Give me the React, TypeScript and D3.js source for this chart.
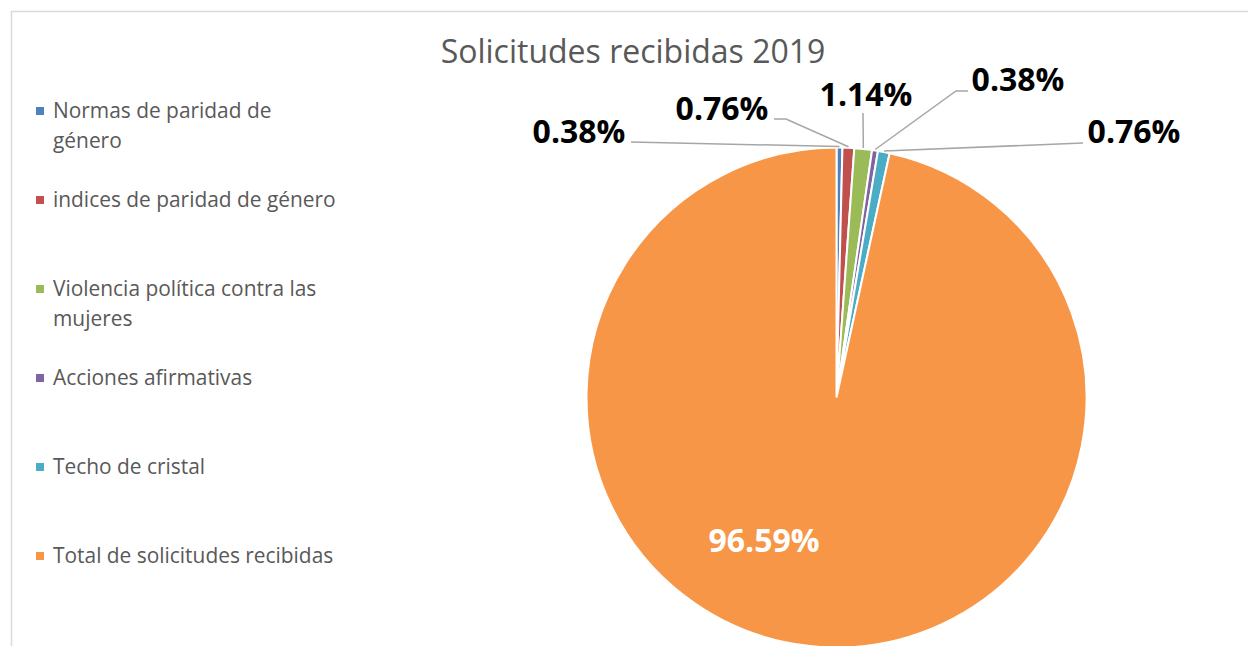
import React from "react";
import * as d3 from "d3";

const categories = [
  "Normas de paridad de género",
  "indices de paridad de género",
  "Violencia política contra las mujeres",
  "Acciones afirmativas",
  "Techo de cristal",
  "Total de solicitudes recibidas",
];
const values = [1, 2, 3, 1, 2, 255];
const colors = ["#4F81BD", "#C0504D", "#9BBB59", "#8064A2", "#4BACC6", "#F79646"];
const legendLines = [
  ["Normas de paridad de", "género"],
  ["indices de paridad de género"],
  ["Violencia política contra las", "mujeres"],
  ["Acciones afirmativas"],
  ["Techo de cristal"],
  ["Total de solicitudes recibidas"],
];
const title = "Solicitudes recibidas 2019";

// label layout (offsets from pie centre): label centre x, baseline y, leader start, optional elbow
const labelLayout = [
  { x: -257.5, y: -254.5, start: [-205.5, -255.5], elbow: null },
  { x: -114.5, y: -277.5, start: [-62.5, -278.5], elbow: [-50.5, -278.5] },
  { x: 29.5, y: -291.5, start: [26.5, -284.5], elbow: null },
  { x: 181.5, y: -306.5, start: [131.5, -306.5], elbow: [119.5, -306.5] },
  { x: 297.5, y: -254.5, start: [246.5, -254.5], elbow: null },
  null,
];

export default function App() {
  const W = 1248;
  const H = 646;
  const cx = 836.5;
  const cy = 397.5;
  const r = 250;
  const total = d3.sum(values);
  const pie = d3.pie<number>().sort(null).value((d) => d)(values);
  const arc = d3.arc<d3.PieArcDatum<number>>().innerRadius(0).outerRadius(r);
  const fmt = (v: number) => ((v / total) * 100).toFixed(2) + "%";
  const legendY = d3.scalePoint<number>().domain(d3.range(categories.length)).range([118, 563]);

  return (
    <svg width={W} height={H} style={{ position: "absolute", left: 0, top: 0 }}>
      <rect x={0} y={0} width={W} height={H} fill="#fff" />
      <rect x={11.5} y={11.5} width={1400} height={900} fill="none" stroke="#d9d9d9" strokeWidth={1.5} />
      <text
        x={633}
        y={63}
        textAnchor="middle"
        fontFamily="'Open Sans'"
        fontSize={32}
        fill="#595959"
      >
        {title}
      </text>
      <g transform={`translate(${cx},${cy})`}>
        {pie.map((p, i) => (
          <path key={i} d={arc(p) || ""} fill={colors[i]} stroke="#fff" strokeWidth={2} />
        ))}
        {pie.map((p, i) => {
          const L = labelLayout[i];
          if (!L) return null;
          const mid = (p.startAngle + p.endAngle) / 2;
          const er = r + 1;
          const ex = er * Math.sin(mid);
          const ey = -er * Math.cos(mid);
          const pts = [L.start, ...(L.elbow ? [L.elbow] : []), [ex, ey]];
          return (
            <polyline
              key={"l" + i}
              points={pts.map((q) => q.join(",")).join(" ")}
              fill="none"
              stroke="#a6a6a6"
              strokeWidth={1.5}
            />
          );
        })}
        {pie.map((p, i) => {
          const L = labelLayout[i];
          if (!L) return null;
          return (
            <text
              key={"t" + i}
              x={L.x}
              y={L.y}
              textAnchor="middle"
              fontFamily="'Open Sans'"
              fontWeight="bold"
              fontSize={32}
              fill="#000"
            >
              {fmt(values[i])}
            </text>
          );
        })}
        {(() => {
          const i = values.length - 1;
          return (
            <text
              x={764 - cx}
              y={552 - cy}
              textAnchor="middle"
              fontFamily="'Open Sans'"
              fontWeight="bold"
              fontSize={32}
              fill="#fff"
            >
              {fmt(values[i])}
            </text>
          );
        })()}
      </g>
      <g>
        {categories.map((c, i) => {
          const by = legendY(i) as number;
          return (
            <g key={c}>
              <rect x={36} y={by - 11} width={8} height={8} fill={colors[i]} />
              {legendLines[i].map((ln, j) => (
                <text
                  key={j}
                  x={53}
                  y={by + j * 29.5}
                  fontFamily="'Open Sans'"
                  fontSize={20.9}
                  fill="#595959"
                >
                  {ln}
                </text>
              ))}
            </g>
          );
        })}
      </g>
    </svg>
  );
}
